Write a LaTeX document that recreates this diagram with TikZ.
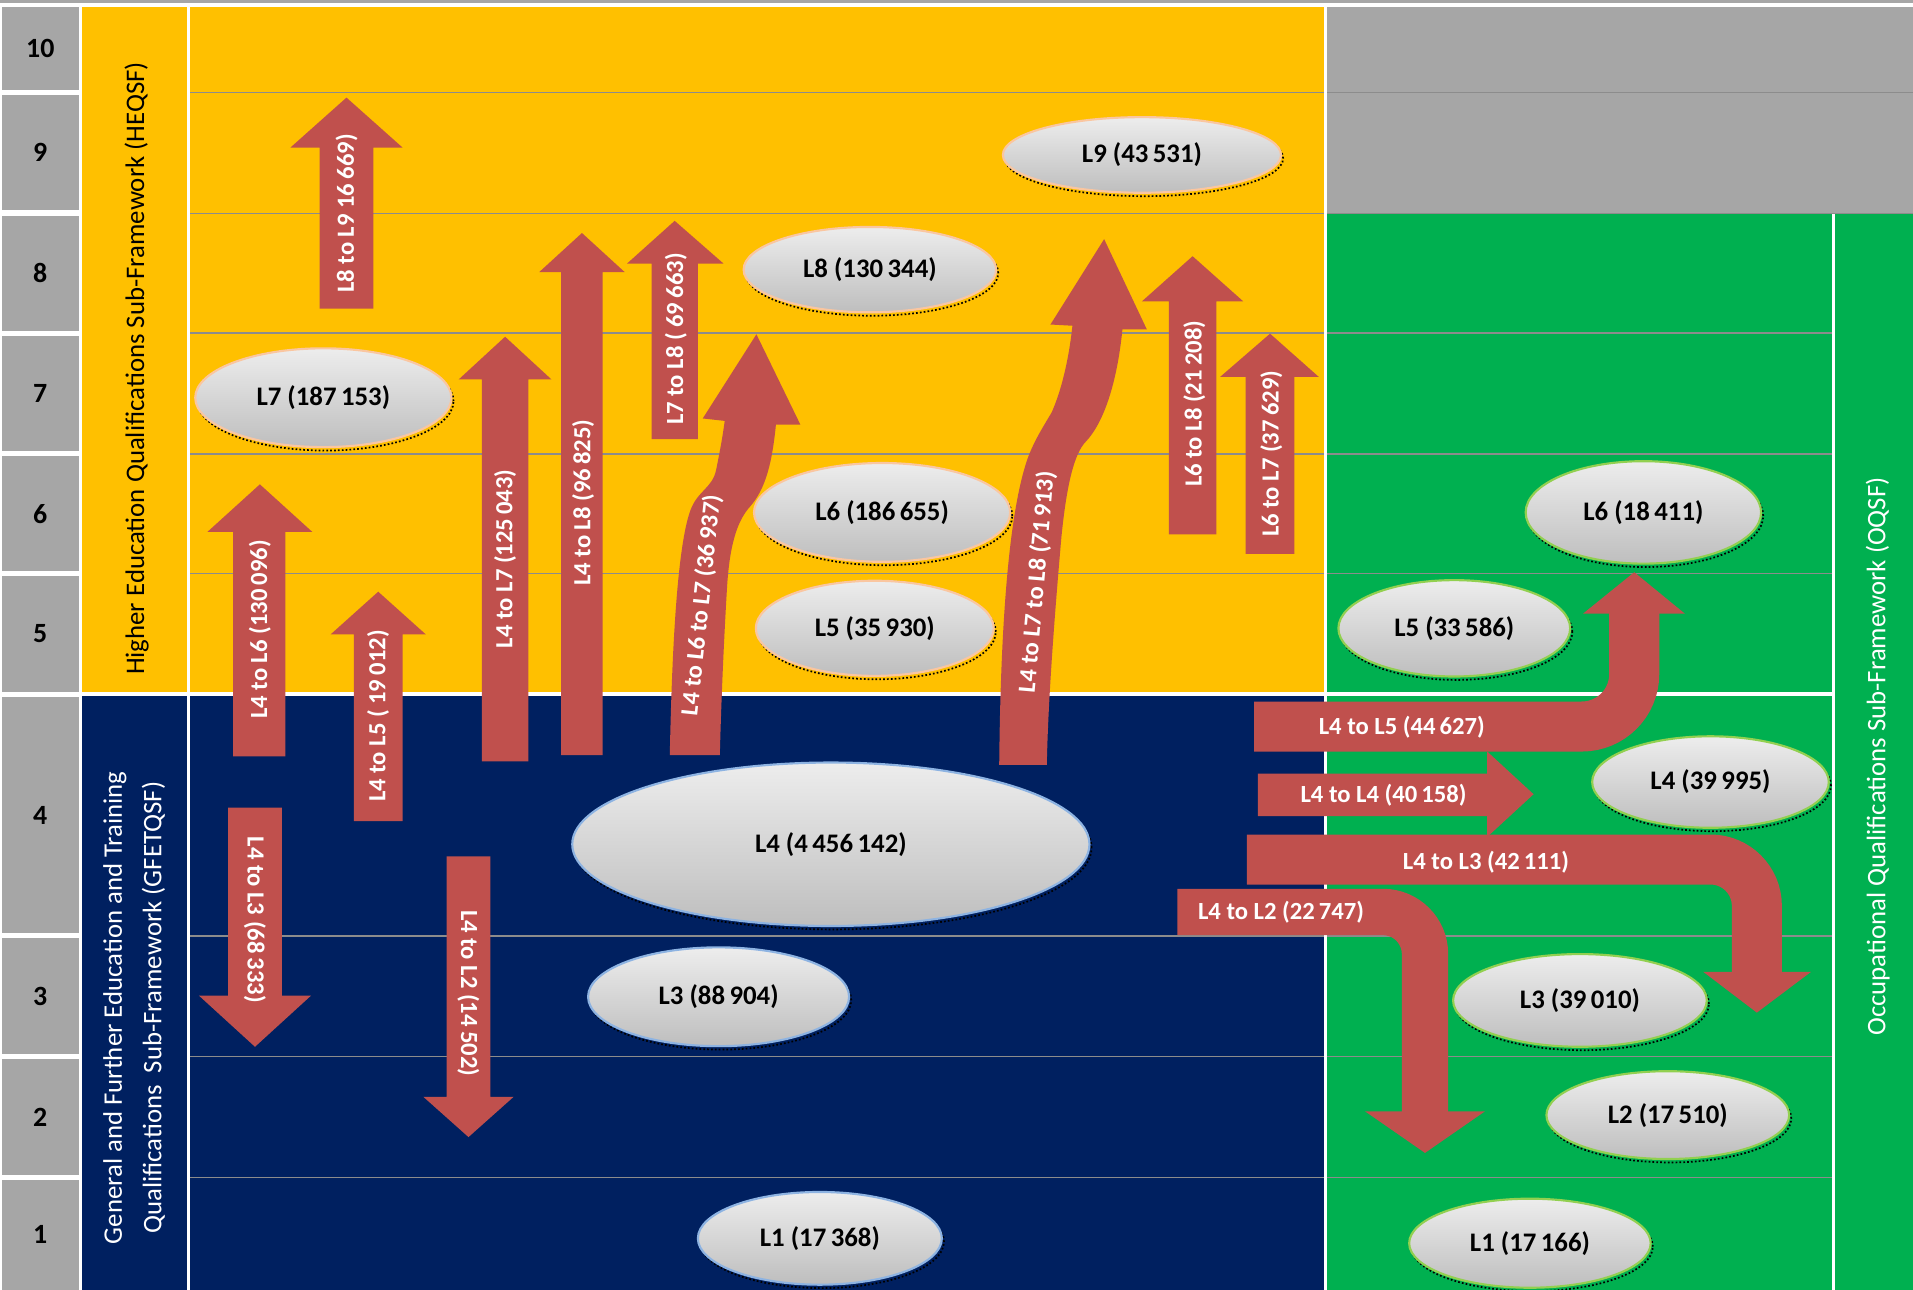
\documentclass[tikz,border=0pt]{standalone}
\usepackage{fontspec}
\setmainfont{Carlito}
\usetikzlibrary{shapes.geometric}

\definecolor{heyellow}{HTML}{FFC000}
\definecolor{genavy}{HTML}{002060}
\definecolor{occgreen}{HTML}{00B050}
\definecolor{lvgray}{HTML}{A6A6A6}
\definecolor{flowred}{HTML}{C0504D}
\definecolor{rimpeach}{HTML}{FAC6A0}
\definecolor{rimblue}{HTML}{8DB3E2}
\definecolor{rimgreen}{HTML}{92D050}
\definecolor{lvtop}{HTML}{EDEDED}
\definecolor{lvbottom}{HTML}{BEBEBE}
\definecolor{rulegray}{HTML}{8C8C8C}

\begin{document}
\begin{tikzpicture}[x=0.02cm, y=-0.02cm,
  every node/.style={inner sep=0pt},
  lvnum/.style={font=\fontsize{13}{15}\selectfont\bfseries},
  lvoval/.style={ellipse, top color=lvtop, bottom color=lvbottom, line width=1pt,
    font=\fontsize{12.5}{14}\selectfont\bfseries,
    preaction={draw=black, densely dotted, line width=0.8pt, transform canvas={xshift=1pt, yshift=-1.6pt}}},
  heoval/.style={lvoval, draw=rimpeach},
  geoval/.style={lvoval, draw=rimblue},
  ocoval/.style={lvoval, draw=rimgreen},
  flowtext/.style={text=white, font=\fontsize{11.5}{13}\selectfont\bfseries},
  sftext/.style={font=\fontsize{12.5}{18.5}\selectfont, align=center},
  rule/.style={draw=rulegray, line width=0.7pt}]
\useasboundingbox (0,0) rectangle (1568,1057);
\fill[white] (0,0) rectangle (1568,1057);
\fill[lvgray] (0,0) rectangle (1568,2.5);

% level numbers
\foreach \ya/\yb/\lv in {6/74/10, 78/172/9, 177/271/8, 275/370/7, 374/468/6, 472/567/5, 571/765/4, 769/864/3, 868/963/2, 967/1057/1} {
  \fill[lvgray] (2,\ya) rectangle (65,\yb);
  \node[lvnum] (num\lv) at (33,{(\ya+\yb)/2}) {\lv};
}

% sub-framework bands
\fill[heyellow] (67,6) rectangle (153,567.5);
\fill[genavy] (67,570.5) rectangle (153,1057);
\fill[heyellow] (156,6) rectangle (1085,567.5);
\fill[genavy] (156,570.5) rectangle (1085,1057);
\fill[lvgray] (1088,6) rectangle (1568,175);
\fill[occgreen] (1088,175) rectangle (1568,1057);
\fill[white] (1501.5,175) rectangle (1504,1057);
\fill[white] (1088,567.5) rectangle (1501.5,570.5);

% level rules
\foreach \y in {76,175,273,372,470,767,866,965}
  \draw[rule] (156,\y) -- (1085,\y);
\foreach \y in {76,175}
  \draw[rule] (1088,\y) -- (1568,\y);
\foreach \y in {273,372,470,767,866,965}
  \draw[rule] (1088,\y) -- (1501.5,\y);

\node[sftext, rotate=90] (heqsf) at (112,302) {Higher Education Qualifications Sub-Framework (HEQSF)};
\node[sftext, text=white, rotate=90] (gfetqsf) at (110,826) {General and Further Education and Training\\Qualifications~ Sub-Framework (GFETQSF)};
\node[sftext, text=white, rotate=90] (oqsf) at (1539,620) {Occupational Qualifications Sub-Framework (OQSF)};

% HEQSF levels
\node[heoval, minimum width=4.56cm, minimum height=1.24cm] (heL9) at (936,127) {L9 (43\,531)};
\node[heoval, minimum width=4.14cm, minimum height=1.4cm] (heL8) at (713,221) {L8 (130\,344)};
\node[heoval, minimum width=4.2cm, minimum height=1.62cm] (heL7) at (265,326) {L7 (187\,153)};
\node[heoval, minimum width=4.2cm, minimum height=1.62cm] (heL6) at (723,420) {L6 (186\,655)};
\node[heoval, minimum width=3.9cm, minimum height=1.56cm] (heL5) at (717,515) {L5 (35\,930)};

% GFETQSF levels
\node[geoval, minimum width=8.48cm, minimum height=2.68cm] (geL4) at (681,692) {L4 (4\,456\,142)};
\node[geoval, minimum width=4.28cm, minimum height=1.62cm] (geL3) at (589,817) {L3 (88\,904)};
\node[geoval, minimum width=4cm, minimum height=1.52cm] (geL1) at (672,1015) {L1 (17\,368)};

% OQSF levels
\node[ocoval, minimum width=3.86cm, minimum height=1.68cm] (ocL6) at (1347,420) {L6 (18\,411)};
\node[ocoval, minimum width=3.8cm, minimum height=1.58cm] (ocL5) at (1192,515) {L5 (33\,586)};
\node[ocoval, minimum width=3.88cm, minimum height=1.5cm] (ocL4) at (1402,641) {L4 (39\,995)};
\node[ocoval, minimum width=4.16cm, minimum height=1.52cm] (ocL3) at (1295,820) {L3 (39\,010)};
\node[ocoval, minimum width=3.98cm, minimum height=1.44cm] (ocL2) at (1367,914) {L2 (17\,510)};
\node[ocoval, minimum width=3.96cm, minimum height=1.46cm] (ocL1) at (1254,1019) {L1 (17\,166)};

% upward and downward flows
\fill[flowred] (262,253) -- (262,121) -- (238,121) -- (284,80) -- (330,121) -- (306,121) -- (306,253) -- cycle;
\node[flowtext, rotate=90] (l8l9) at (284,175) {L8 to L9 16\,669)};
\fill[flowred] (191,620) -- (191,436) -- (170,436) -- (213,397) -- (256,436) -- (234,436) -- (234,620) -- cycle;
\node[flowtext, rotate=90] (l4l6) at (213,516) {L4 to L6 (130\,096)};
\fill[flowred] (290,673) -- (290,520) -- (271,520) -- (310,485) -- (349,520) -- (330,520) -- (330,673) -- cycle;
\node[flowtext, rotate=90] (l4l5) at (310,587) {L4 to L5 (~19\,012)};
\fill[flowred] (187,662) -- (231,662) -- (231,816) -- (255,816) -- (209,858) -- (163,816) -- (187,816) -- cycle;
\node[flowtext, rotate=-90] (l4l3) at (209,754) {L4 to L3 (68\,333)};
\fill[flowred] (366,702) -- (402,702) -- (402,899) -- (421,899) -- (384,932) -- (347,899) -- (366,899) -- cycle;
\node[flowtext, rotate=-90] (l4l2) at (384,814) {L4 to L2 (14\,502)};
\fill[flowred] (395,624) -- (395,311) -- (376,311) -- (414,276) -- (452,311) -- (433,311) -- (433,624) -- cycle;
\node[flowtext, rotate=90] (l4l7) at (414,458) {L4 to L7 (125\,043)};
\fill[flowred] (460,619) -- (460,223) -- (442,223) -- (477,191) -- (512,223) -- (494,223) -- (494,619) -- cycle;
\node[flowtext, rotate=90] (l4l8) at (478,412) {L4 to L8 (96\,825)};
\fill[flowred] (534,360) -- (534,216) -- (514,216) -- (553,181) -- (593,216) -- (572,216) -- (572,360) -- cycle;
\node[flowtext, rotate=90] (l7l8) at (554,278) {L7 to L8 (~69\,663)};
\fill[flowred] (958,438) -- (958,247) -- (936,247) -- (977.5,210) -- (1019,247) -- (997,247) -- (997,438) -- cycle;
\node[flowtext, rotate=90] (l6l8) at (979,331) {L6 to L8 (21\,208)};
\fill[flowred] (1021,454) -- (1021,309) -- (1000,309) -- (1041,273.5) -- (1081,309) -- (1061,309) -- (1061,454) -- cycle;
\node[flowtext, rotate=90] (l6l7) at (1042,372) {L6 to L7 (37\,629)};

% curved flows
\fill[flowred] (549,619) .. controls (551,520) and (556,445) .. (566,418)
  .. controls (572,402) and (584,400) .. (587,385) .. controls (590,370) and (592,360) .. (594,345)
  -- (576,343) -- (620,274) -- (656,348) -- (636,348)
  .. controls (633,378) and (628,400) .. (615,415) .. controls (603,428) and (598,450) .. (596,480)
  .. controls (593,530) and (591,580) .. (590,619) -- cycle;
\node[flowtext, rotate=84] (l4l6l7) at (575,496) {L4 to L6 to L7 (36\,937)};
\fill[flowred] (819,627) .. controls (820,520) and (826,430) .. (840,383)
  .. controls (845,365) and (855,350) .. (862,338) .. controls (870,320) and (876,295) .. (879,267)
  -- (861,266) -- (905,196) -- (940,270) -- (920,270)
  .. controls (916,310) and (906,345) .. (890,362) .. controls (880,372) and (874,400) .. (870,440)
  .. controls (863,520) and (859,580) .. (858,627) -- cycle;
\node[flowtext, rotate=85] (l4l7l8) at (850,477) {L4 to L7 to L8 (71\,913)};

% flows into the OQSF
\draw[flowred, line width=0.82cm, rounded corners=0.86cm] (1028,595.5) -- (1339.5,595.5) -- (1339.5,502);
\fill[flowred] (1297.5,503) -- (1339.5,469) -- (1381,503) -- cycle;
\node[flowtext] (l4l5oc) at (1149,596) {L4 to L5 (44\,627)};
\fill[flowred] (1031,634) -- (1219,634) -- (1219,616) -- (1257,651) -- (1219,686) -- (1219,669) -- (1031,669) -- cycle;
\node[flowtext] (l4l4oc) at (1134,652) {L4 to L4 (40\,158)};
\draw[flowred, line width=0.82cm, rounded corners=0.76cm] (1022,704.5) -- (1440,704.5) -- (1440,797.5);
\fill[flowred] (1396,796.5) -- (1440,830) -- (1484.5,796.5) -- cycle;
\node[flowtext] (l4l3oc) at (1218,707) {L4 to L3 (42\,111)};
\draw[flowred, line width=0.76cm, rounded corners=0.69cm] (965,747.5) -- (1168,747.5) -- (1168,912);
\fill[flowred] (1119,911) -- (1168,945) -- (1217,911) -- cycle;
\node[flowtext] (l4l2oc) at (1050,748) {L4 to L2 (22\,747)};
\end{tikzpicture}
\end{document}
